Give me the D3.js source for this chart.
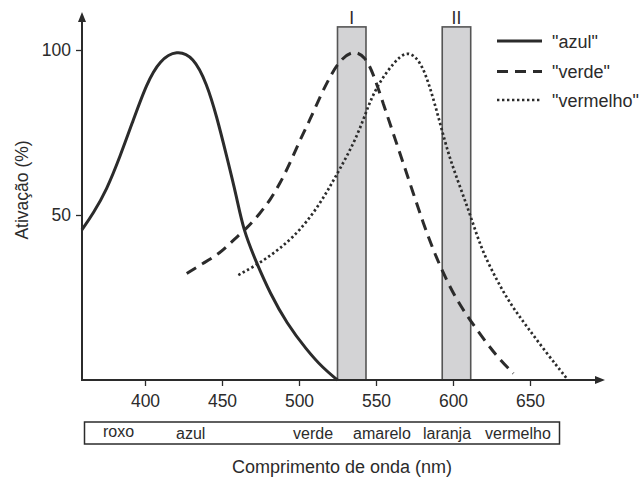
<!DOCTYPE html>
<html><head><meta charset="utf-8">
<script src="https://cdn.jsdelivr.net/npm/d3@7"></script>
<style>body{margin:0;background:#fff}svg{display:block;font-family:"Liberation Sans",Arial,sans-serif}</style>
</head><body><svg id="c" width="644" height="479"></svg>
<script>
// Data
const xTicks = [400, 450, 500, 550, 600, 650];
const yTicks = [50, 100];
const azulNm  = [359, 366.4, 375.1, 383.8, 392.4, 401.1, 409.7, 420.6, 431.4, 440.1, 446.6, 453.1, 459.5, 463.8, 472.5, 481.2, 492, 505, 515.8, 525];
const azulVal = [45.5, 50.5, 57.6, 67.7, 78.8, 89.9, 97, 100, 98, 89.9, 79.8, 67.7, 55.5, 45.5, 35.4, 26.3, 17.2, 9.1, 3.5, 0];
const verdeNm  = [427.1, 437.9, 448.7, 457.3, 466, 474.7, 481.2, 487.7, 494.2, 500.6, 507.1, 513.6, 520.1, 526.6, 535.3, 542.9, 548.2, 554.7, 561.2, 567.7, 574.2, 580.7, 587.2, 593.7, 602.4, 611, 621.9, 630.5, 639.2];
const verdeVal = [32.3, 35.4, 38.4, 42.4, 45.9, 50.5, 54.5, 59.6, 65.7, 72.7, 78.8, 85.8, 91.9, 97, 100, 98, 92.9, 83.8, 74.7, 65.7, 56.6, 47.5, 39.4, 32.3, 24.2, 18.2, 11.1, 6.1, 2];
const vermNm  = [460.6, 470.3, 479, 487.7, 496.3, 505, 513.6, 520.1, 526.6, 535.3, 541.8, 546.1, 552.6, 561.2, 569.9, 578.6, 585.1, 591.6, 597, 603, 608.9, 614, 619.7, 628.4, 637, 647.9, 660.9, 673.8];
const vermVal = [31.8, 34.3, 36.9, 39.9, 43.4, 47.9, 53.5, 58.6, 64, 71.5, 78.8, 84.5, 90.5, 96, 100, 97, 88.9, 77.8, 68.5, 60.5, 53, 46, 38.4, 30.3, 23.2, 16.2, 8.1, 0.5];
const barLabels = ["I", "II"];
const barStart = [525, 593];
const barEnd = [543.5, 611.5];
const barTop = 107;
const seriesNames = ['"azul"', '"verde"', '"vermelho"'];
const colorNames = ["roxo", "azul", "verde", "amarelo", "laranja", "vermelho"];
const colorNamePos = [103, 176, 293, 353, 423, 485];

const svg = d3.select("#c");
const ink = "#2b2b2b";
const x = d3.scaleLinear().domain([400, 650]).range([145, 530]);
const y = d3.scaleLinear().domain([0, 100]).range([380, 50]);
const xMin = x.invert(82), xMax = x.invert(605);
const yMaxV = y.invert(12);

// bars
barStart.forEach((s, i) => {
  svg.append("rect").attr("x", x(s)).attr("y", y(barTop))
    .attr("width", x(barEnd[i]) - x(s)).attr("height", y(0) - y(barTop))
    .attr("fill", "#d3d3d5").attr("stroke", "#555").attr("stroke-width", 1.6);
  svg.append("text").attr("x", (x(s) + x(barEnd[i])) / 2).attr("y", 24)
    .attr("text-anchor", "middle").attr("font-size", 17.5).attr("fill", ink).text(barLabels[i]);
});

// axes
const gx = svg.append("g").attr("transform", `translate(0,${y(0)})`)
  .call(d3.axisBottom(x).tickValues(xTicks).tickSize(6).tickPadding(9).tickFormat(d3.format("d")));
gx.select(".domain").remove();
gx.selectAll("line").attr("stroke", ink).attr("stroke-width", 1.3);
gx.selectAll("text").attr("font-size", 17.5).attr("fill", ink).attr("font-family", "Liberation Sans, Arial");
const gy = svg.append("g").attr("transform", `translate(${x(xMin)},0)`)
  .call(d3.axisLeft(y).tickValues(yTicks).tickSize(6).tickPadding(5));
gy.select(".domain").remove();
gy.selectAll("line").attr("stroke", ink).attr("stroke-width", 1.3);
gy.selectAll("text").attr("font-size", 17.5).attr("fill", ink).attr("font-family", "Liberation Sans, Arial");

svg.append("line").attr("x1", x(xMin)).attr("x2", x(xMax) - 6).attr("y1", y(0)).attr("y2", y(0))
  .attr("stroke", ink).attr("stroke-width", 2);
svg.append("line").attr("x1", x(xMin)).attr("x2", x(xMin)).attr("y1", y(0) + 1).attr("y2", y(yMaxV) + 6)
  .attr("stroke", ink).attr("stroke-width", 2);
svg.append("path").attr("d", `M${x(xMax)},${y(0)} l-10,-4 l0,8 z`).attr("fill", ink);
svg.append("path").attr("d", `M${x(xMin)},${y(yMaxV)} l-4,10 l8,0 z`).attr("fill", ink);

// curves
const line = d3.line().x(d => x(d[0])).y(d => y(d[1])).curve(d3.curveBasis);
const zip = (a, b) => a.map((v, i) => [v, b[i]]);
svg.append("path").attr("d", line(zip(azulNm, azulVal))).attr("fill", "none")
  .attr("stroke", ink).attr("stroke-width", 3);
svg.append("path").attr("d", line(zip(verdeNm, verdeVal))).attr("fill", "none")
  .attr("stroke", ink).attr("stroke-width", 3).attr("stroke-dasharray", "11,7");
svg.append("path").attr("d", line(zip(vermNm, vermVal))).attr("fill", "none")
  .attr("stroke", ink).attr("stroke-width", 2.7).attr("stroke-dasharray", "2.4,2.6");

// legend
const dashes = [null, "11,7", "2.4,2.6"];
const legY = [41, 71.5, 100];
seriesNames.forEach((n, i) => {
  const ly = legY[i];
  svg.append("line").attr("x1", 497).attr("x2", 542).attr("y1", ly).attr("y2", ly)
    .attr("stroke", ink).attr("stroke-width", i === 2 ? 2.7 : 3.2).attr("stroke-dasharray", dashes[i]);
  svg.append("text").attr("x", 552).attr("y", ly + 6.5).attr("font-size", 18).attr("fill", ink).text(n);
});

// axis titles
svg.append("text").attr("transform", "translate(28,190) rotate(-90)").attr("text-anchor", "middle")
  .attr("font-size", 17.5).attr("fill", ink).text("Ativação (%)");
svg.append("text").attr("x", 342).attr("y", 473).attr("text-anchor", "middle")
  .attr("font-size", 18).attr("fill", ink).text("Comprimento de onda (nm)");

// color name box
svg.append("rect").attr("x", 84.5).attr("y", 422).attr("width", 475).attr("height", 22)
  .attr("fill", "none").attr("stroke", ink).attr("stroke-width", 1.5);
colorNames.forEach((n, i) => {
  svg.append("text").attr("x", colorNamePos[i]).attr("y", i === 0 ? 437 : 438.5)
    .attr("font-size", 16).attr("fill", ink).text(n);
});
</script></body></html>
